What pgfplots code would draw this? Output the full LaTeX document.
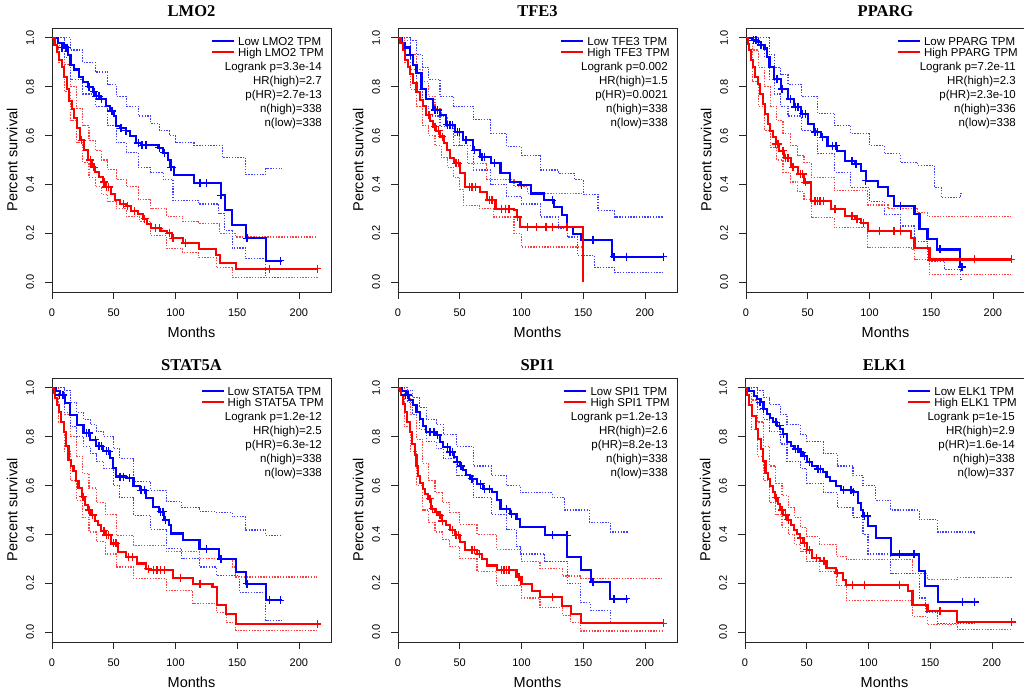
\documentclass[border=0pt]{standalone}
\usepackage{pgfplots}
\pgfplotsset{compat=1.18}
\usepackage{fontspec}
\setmainfont{Liberation Sans}
\newfontfamily\titlefont{Liberation Serif}
\newcommand{\tickf}{\fontsize{11bp}{13bp}\selectfont}
\newcommand{\legf}{\fontsize{11.5bp}{13bp}\selectfont}
\newcommand{\labf}{\fontsize{14.5bp}{17bp}\selectfont}
\newcommand{\titf}{\titlefont\bfseries\fontsize{16.5bp}{19bp}\selectfont}
\definecolor{kmblue}{RGB}{0,0,255}
\definecolor{kmred}{RGB}{255,0,0}
\pgfplotsset{
 km/.style={
  scale only axis, width=279bp, height=264bp,
  xmin=0, xmax=226, ymin=-0.04, ymax=1.04,
  xtick={0,50,100,150,200}, ytick={0,0.2,0.4,0.6,0.8,1},
  tick pos=left, tick align=outside, major tick length=7bp,
  axis line style={black!85, line width=0.8bp},
  tick style={black!85, line width=0.8bp},
  ticklabel style={font=\tickf},
  /pgf/number format/assume math mode=true,
  yticklabel style={xshift=-15bp, rotate=90, anchor=center, /pgf/number format/fixed, /pgf/number format/fixed zerofill, /pgf/number format/precision=1},
  xticklabel style={yshift=-6bp, /pgf/number format/fixed},
  xlabel={Months}, ylabel={Percent survival},
  label style={font=\labf},
  xlabel style={at={(axis description cs:0.5,-0.153)}, anchor=center},
  ylabel style={at={(axis description cs:-0.143,0.5)}, anchor=center},
  title style={font=\titf, at={(axis description cs:0.5,1)}, anchor=center},
  clip=false,
 },
 ci/.style={const plot, no marks, line width=1.1bp, dash pattern=on 1.4bp off 1.4bp},
 cib/.style={ci, kmblue!75},
 cir/.style={ci, kmred!75},
 mb/.style={const plot, no marks, kmblue, line width=2.1bp},
 mr/.style={const plot, no marks, kmred, line width=2.1bp},
 cb/.style={only marks, mark=+, mark size=4bp, kmblue, mark options={line width=1.4bp}},
 cr/.style={only marks, mark=+, mark size=4bp, kmred, mark options={line width=1.4bp}},
}
\tikzset{leg/.style={inner sep=0pt, font=\legf}}
\newcommand{\kmlegend}[7]{%
 \node[leg, anchor=base east] (#1h) at ([xshift=-7bp,yshift=-28.3bp]#1.north east) {High #2 TPM};
 \node[leg, anchor=base west] (#1l) at ([yshift=11bp]#1h.base west) {Low #2 TPM};
 \draw[kmblue, line width=2bp] ([xshift=-4bp,yshift=3.8bp]#1l.base west) -- ++(-22bp,0);
 \draw[kmred, line width=2bp] ([xshift=-4bp,yshift=3.8bp]#1h.base west) -- ++(-22bp,0);
 \node[leg, anchor=base east] at ([xshift=-9bp,yshift=-42.6bp]#1.north east) {Logrank p=#3};
 \node[leg, anchor=base east] at ([xshift=-9bp,yshift=-56.6bp]#1.north east) {HR(high)=#4};
 \node[leg, anchor=base east] at ([xshift=-9bp,yshift=-70.6bp]#1.north east) {p(HR)=#5};
 \node[leg, anchor=base east] at ([xshift=-9bp,yshift=-84.6bp]#1.north east) {n(high)=#6};
 \node[leg, anchor=base east] at ([xshift=-9bp,yshift=-98.1bp]#1.north east) {n(low)=#7};
}
\begin{document}
\begin{tikzpicture}
\useasboundingbox (0,0) rectangle (1024bp,690bp);
% ---------------- LMO2
\begin{axis}[km, name=pa, at={(52bp,398bp)}, anchor=south west, title={LMO2}, title style={yshift=10.5bp}]
\addplot[cir] coordinates {(0,1)(5,0.97)(10,0.89)(15,0.80)(20,0.71)(25,0.64)(30,0.58)(35,0.54)(40,0.50)(45,0.46)(52,0.42)(60,0.39)(70,0.34)(80,0.30)(93,0.27)(106,0.25)(119,0.24)(136,0.20)(149,0.185)(215,0.185)};
\addplot[cir] coordinates {(0,1)(5,0.90)(10,0.78)(15,0.66)(20,0.57)(25,0.49)(30,0.43)(35,0.39)(40,0.36)(45,0.33)(52,0.30)(60,0.27)(71,0.25)(80,0.19)(93,0.137)(106,0.12)(119,0.10)(133,0.06)(146,0.02)(215,0.015)};
\addplot[cib] coordinates {(0,1)(10,1)(15,0.95)(25,0.90)(35,0.86)(45,0.81)(52,0.76)(60,0.72)(70,0.68)(80,0.65)(87,0.62)(95,0.60)(100,0.57)(115,0.56)(138,0.51)(157,0.44)(173,0.465)(186,0.465)};
\addplot[cib] coordinates {(0,1)(10,0.92)(15,0.83)(25,0.77)(35,0.72)(45,0.64)(52,0.57)(60,0.53)(70,0.47)(80,0.45)(90,0.42)(98,0.335)(119,0.32)(135,0.28)(140,0.21)(146,0.14)(157,0.096)(173,0.02)(186,0.02)};
\addplot[mb] coordinates {(0,1)(5,0.98)(10,0.96)(13,0.93)(15,0.89)(18,0.87)(22,0.84)(25,0.82)(29,0.80)(33,0.78)(36,0.76)(40,0.75)(44,0.72)(47,0.70)(50,0.68)(52,0.64)(55,0.63)(60,0.62)(63,0.60)(68,0.57)(72,0.56)(86,0.55)(90,0.53)(94,0.50)(96,0.47)(99,0.44)(115,0.405)(137,0.355)(140,0.295)(146,0.235)(157,0.18)(173,0.088)(186,0.088)};
\addplot[mr] coordinates {(0,1)(2,0.97)(4,0.94)(6,0.91)(8,0.88)(10,0.84)(12,0.79)(14,0.74)(16,0.71)(18,0.67)(20,0.63)(23,0.58)(26,0.54)(29,0.50)(32,0.47)(35,0.45)(38,0.43)(41,0.41)(44,0.39)(48,0.36)(51,0.335)(55,0.32)(60,0.31)(64,0.29)(70,0.28)(74,0.26)(77,0.24)(80,0.22)(88,0.21)(93,0.20)(97,0.18)(106,0.16)(119,0.135)(133,0.11)(136,0.08)(149,0.055)(215,0.055)};
\addplot[cb] coordinates {(8,0.96)(11,0.96)(12,0.96)(30,0.80)(34,0.78)(36,0.76)(38,0.76)(40,0.75)(48,0.70)(49,0.70)(56,0.63)(60,0.62)(70,0.57)(73,0.56)(76,0.56)(87,0.55)(91,0.53)(96,0.47)(97,0.47)(120,0.405)(125,0.405)(137,0.355)(158,0.18)(185,0.088)};
\addplot[cr] coordinates {(24,0.58)(31,0.50)(34,0.47)(42,0.41)(44,0.39)(46,0.39)(58,0.32)(61,0.31)(67,0.29)(75,0.26)(84,0.22)(87,0.22)(95,0.20)(98,0.18)(108,0.16)(176,0.055)(215,0.055)};
\end{axis}
\kmlegend{pa}{LMO2}{3.3e-14}{2.7}{2.7e-13}{338}{338}
% ---------------- TFE3
\begin{axis}[km, name=pb, at={(398bp,398bp)}, anchor=south west, title={TFE3}, title style={yshift=10.5bp}]
\addplot[cir] coordinates {(0,1)(5,0.99)(10,0.93)(15,0.87)(20,0.82)(25,0.76)(30,0.71)(35,0.68)(40,0.64)(45,0.60)(50,0.56)(56,0.486)(72,0.42)(94,0.39)(105,0.363)(149.7,0.363)};
\addplot[cir] coordinates {(0,1)(5,0.90)(10,0.79)(15,0.72)(20,0.64)(25,0.60)(30,0.56)(35,0.51)(40,0.47)(45,0.43)(50,0.38)(53,0.315)(66,0.30)(77.6,0.267)(94,0.20)(100,0.144)(149.7,0.144)};
\addplot[cib] coordinates {(0,1)(10,0.99)(15,0.93)(20,0.88)(25,0.83)(34,0.76)(45,0.72)(61,0.664)(75,0.61)(88,0.555)(100,0.52)(115.6,0.459)(130,0.445)(143,0.42)(150,0.36)(162,0.295)(175.5,0.267)(215,0.267)};
\addplot[cib] coordinates {(0,1)(10,0.87)(15,0.79)(20,0.72)(25,0.68)(34,0.637)(45,0.56)(61,0.459)(75,0.40)(88,0.35)(100,0.32)(115.6,0.267)(130,0.22)(137,0.185)(145.6,0.11)(159,0.062)(175.5,0.041)(215,0.041)};
\addplot[mb] coordinates {(0,1)(3,0.98)(6,0.96)(9.5,0.93)(12,0.89)(15,0.856)(19,0.79)(23,0.75)(28.6,0.705)(34,0.685)(39,0.644)(46,0.616)(53,0.58)(61,0.54)(66.7,0.514)(75,0.486)(83,0.445)(91,0.41)(99,0.397)(107.5,0.363)(118,0.335)(126.5,0.308)(133,0.274)(137,0.226)(141.5,0.199)(148,0.171)(173,0.105)(215,0.105)};
\addplot[mr] coordinates {(0,1)(2,0.98)(4,0.95)(6,0.91)(8,0.88)(10,0.85)(12,0.815)(15,0.78)(17.7,0.747)(20,0.72)(23,0.685)(26,0.66)(28.6,0.637)(31,0.62)(34,0.596)(37,0.57)(39.5,0.54)(42,0.51)(45,0.486)(50,0.445)(54.4,0.39)(66.7,0.37)(72,0.336)(79,0.30)(94,0.295)(96.6,0.267)(99,0.226)(149.7,0)};
\addplot[cb] coordinates {(10,0.93)(30,0.705)(32,0.705)(40,0.644)(42,0.644)(44,0.644)(48,0.616)(50,0.616)(55,0.58)(62,0.54)(68,0.514)(70,0.514)(78,0.486)(100,0.397)(125,0.335)(158,0.171)(175,0.105)(185,0.105)(215,0.105)};
\addplot[cr] coordinates {(25,0.685)(30,0.637)(33,0.62)(36,0.596)(47,0.486)(49,0.486)(58,0.39)(60,0.39)(63,0.39)(74,0.336)(76,0.336)(84,0.30)(87,0.30)(90,0.30)(97,0.267)(105,0.226)(112,0.226)(120,0.226)(125,0.226)(137,0.226)};
\end{axis}
\kmlegend{pb}{TFE3}{0.002}{1.5}{0.0021}{338}{338}
% ---------------- PPARG
\begin{axis}[km, name=pc, at={(746bp,398bp)}, anchor=south west, title={PPARG}, title style={yshift=10.5bp}]
\addplot[cir] coordinates {(0,1)(5,0.95)(10,0.88)(15,0.80)(20,0.72)(25,0.66)(30,0.61)(36,0.56)(42,0.52)(47,0.49)(52.7,0.43)(71.6,0.374)(98.6,0.316)(115,0.30)(139,0.285)(147,0.27)(215,0.27)};
\addplot[cir] coordinates {(0,1)(5,0.82)(10,0.72)(15,0.62)(20,0.55)(25,0.50)(30,0.45)(36,0.41)(42,0.37)(47,0.34)(52.7,0.264)(71.6,0.223)(98.6,0.141)(134,0.134)(136.5,0.093)(148.6,0.03)(215,0.03)};
\addplot[cib] coordinates {(0,1)(15,1)(19,0.93)(23,0.88)(28,0.85)(34,0.81)(44.6,0.76)(58,0.69)(72,0.64)(85,0.607)(100,0.56)(112,0.525)(125,0.49)(139,0.478)(152.7,0.388)(158,0.347)(174,0.363)(176,0.363)};
\addplot[cib] coordinates {(0,1)(10,0.97)(15,0.92)(19,0.83)(23,0.77)(28,0.72)(34,0.68)(44.6,0.62)(58,0.525)(72,0.45)(85,0.388)(100,0.33)(112,0.278)(125,0.23)(136.5,0.168)(147,0.086)(161,0.052)(174,0.011)(176,0.011)};
\addplot[mb] coordinates {(0,1)(5,0.99)(9.5,0.984)(12,0.97)(15,0.956)(17,0.92)(19,0.88)(23,0.83)(28,0.79)(34,0.75)(39,0.716)(44.6,0.69)(50,0.648)(55.4,0.614)(61,0.593)(66,0.559)(74,0.538)(80,0.497)(88,0.484)(93,0.456)(97,0.415)(107,0.388)(115,0.353)(120,0.312)(136.5,0.278)(140.5,0.216)(147,0.175)(155,0.134)(173,0.062)(176,0.062)};
\addplot[mr] coordinates {(0,1)(1.5,0.975)(2.7,0.95)(4,0.91)(5.4,0.88)(7.5,0.84)(9.5,0.81)(11.5,0.77)(13.5,0.73)(15.5,0.69)(17.6,0.648)(19.5,0.62)(21.6,0.593)(24,0.565)(27,0.538)(31,0.51)(36.5,0.47)(42,0.442)(47,0.408)(52.7,0.333)(69,0.30)(80,0.271)(88,0.257)(93,0.244)(98.6,0.21)(134,0.182)(136.5,0.141)(148.6,0.093)(215,0.093)};
\addplot[cb] coordinates {(6,0.99)(8,0.99)(10,0.984)(12,0.97)(25,0.83)(29,0.79)(36,0.75)(40,0.716)(42,0.716)(46,0.69)(48,0.69)(56,0.614)(58,0.614)(62,0.593)(70,0.559)(73,0.559)(86,0.497)(89,0.484)(97,0.415)(125,0.312)(157,0.134)(175,0.062)};
\addplot[cr] coordinates {(24,0.565)(26,0.565)(30,0.538)(32,0.51)(34,0.51)(38,0.47)(44,0.442)(46,0.442)(48,0.408)(56,0.333)(58,0.333)(60,0.333)(63,0.333)(72,0.30)(86,0.271)(90,0.257)(95,0.244)(108,0.21)(120,0.21)(125,0.21)(185,0.093)(215,0.093)};
\end{axis}
\kmlegend{pc}{PPARG}{7.2e-11}{2.3}{2.3e-10}{336}{338}
% ---------------- STAT5A
\begin{axis}[km, name=pd, at={(52bp,48bp)}, anchor=south west, title={STAT5A}, title style={yshift=7bp}]
\addplot[cir] coordinates {(0,1)(5,0.96)(10,0.89)(15,0.80)(20,0.72)(25,0.65)(30,0.59)(36,0.53)(43,0.48)(52,0.397)(66,0.356)(92.6,0.329)(119.5,0.30)(146,0.267)(149,0.226)(215,0.226)};
\addplot[cir] coordinates {(0,1)(5,0.86)(10,0.74)(15,0.62)(20,0.54)(25,0.47)(30,0.41)(36,0.37)(43,0.32)(52,0.267)(66,0.22)(92.6,0.171)(114,0.116)(133,0.082)(141,0.041)(149,0.007)(215,0.007)};
\addplot[cib] coordinates {(0,1)(10,0.99)(15,0.94)(20,0.90)(25.5,0.87)(31,0.85)(36,0.82)(42,0.80)(49.7,0.75)(55,0.71)(66,0.616)(80,0.58)(92.6,0.534)(105,0.51)(119.5,0.493)(133,0.49)(146,0.473)(157,0.418)(173,0.397)(186,0.397)};
\addplot[cib] coordinates {(0,1)(10,0.90)(15,0.84)(20,0.80)(25.5,0.76)(31,0.73)(36,0.70)(42,0.67)(49.7,0.60)(55,0.55)(66,0.479)(80,0.42)(92.6,0.342)(105,0.30)(119.5,0.267)(133,0.233)(151.7,0.164)(173,0.048)(186,0.048)};
\addplot[mb] coordinates {(0,1)(3,0.985)(6.7,0.97)(10.7,0.938)(14.8,0.89)(20,0.849)(25.5,0.815)(31,0.788)(36,0.76)(41.6,0.74)(47,0.712)(49.7,0.67)(52,0.637)(60,0.63)(66,0.60)(71,0.58)(76.5,0.548)(82,0.514)(87,0.493)(91,0.459)(95,0.438)(96.6,0.404)(106,0.377)(119.5,0.342)(135.6,0.30)(149,0.247)(157,0.199)(173,0.13)(186,0.13)};
\addplot[mr] coordinates {(0,1)(1.5,0.98)(2.7,0.96)(4,0.93)(5.4,0.90)(7.5,0.86)(9.4,0.82)(11.5,0.76)(13.4,0.705)(15.5,0.68)(17.4,0.658)(19.5,0.62)(21.5,0.589)(24,0.555)(26.8,0.52)(29.5,0.50)(32,0.479)(35,0.455)(37.6,0.438)(40,0.415)(43,0.397)(48,0.363)(53.7,0.329)(60,0.308)(68.5,0.281)(76.5,0.26)(80,0.253)(98,0.22)(114,0.199)(130,0.185)(134,0.11)(141,0.075)(149,0.034)(215,0.034)};
\addplot[cb] coordinates {(6,0.97)(9,0.97)(28,0.815)(30,0.815)(35,0.788)(38,0.76)(40,0.76)(44,0.74)(46,0.74)(55,0.637)(58,0.637)(63,0.63)(72,0.58)(75,0.58)(88,0.493)(90,0.493)(92,0.459)(125,0.342)(137,0.30)(158,0.199)(176,0.13)(185,0.13)};
\addplot[cr] coordinates {(25,0.555)(30,0.50)(33,0.479)(42,0.415)(44,0.397)(46,0.397)(50,0.363)(52,0.363)(62,0.308)(65,0.308)(78,0.26)(82,0.253)(85,0.253)(88,0.253)(91,0.253)(104,0.22)(120,0.199)(215,0.034)};
\end{axis}
\kmlegend{pd}{STAT5A}{1.2e-12}{2.5}{6.3e-12}{338}{338}
% ---------------- SPI1
\begin{axis}[km, name=pe, at={(398bp,48bp)}, anchor=south west, title={SPI1}, title style={yshift=7bp}]
\addplot[cir] coordinates {(0,1)(5,0.96)(10,0.89)(15,0.79)(20,0.69)(25,0.62)(30,0.57)(36,0.53)(42,0.49)(50,0.44)(64,0.40)(80,0.34)(100,0.29)(115,0.26)(133,0.23)(148,0.22)(215,0.22)};
\addplot[cir] coordinates {(0,1)(5,0.84)(10,0.74)(15,0.60)(20,0.50)(25,0.45)(30,0.41)(36,0.38)(42,0.35)(50,0.30)(64,0.25)(80,0.19)(100,0.14)(115,0.10)(133,0.07)(140,0.04)(148,0.005)(215,0.005)};
\addplot[cib] coordinates {(0,1)(8,0.99)(12,0.96)(17.6,0.92)(23,0.87)(31,0.85)(36.6,0.81)(47.5,0.76)(61,0.68)(76,0.64)(88,0.60)(99,0.57)(119,0.57)(125,0.55)(135,0.50)(148,0.50)(155,0.45)(172,0.41)(186,0.41)};
\addplot[cib] coordinates {(0,1)(8,0.94)(12,0.89)(17.6,0.83)(23,0.78)(31,0.75)(36.6,0.71)(47.5,0.64)(61,0.55)(76,0.48)(88,0.42)(96,0.35)(99,0.32)(119,0.29)(137,0.20)(148,0.12)(156,0.09)(172,0.04)(186,0.04)};
\addplot[mb] coordinates {(0,1)(3,0.985)(6.8,0.97)(9,0.95)(12,0.93)(15,0.90)(17.6,0.874)(20,0.845)(23,0.82)(31,0.806)(34,0.78)(36.6,0.758)(42,0.738)(45,0.715)(47.5,0.697)(50,0.68)(53,0.663)(55,0.645)(58,0.628)(64,0.608)(69,0.587)(76,0.574)(80,0.54)(83,0.505)(91,0.485)(96,0.464)(99,0.43)(119.4,0.396)(137,0.307)(148,0.255)(156,0.205)(172,0.137)(186,0.137)};
\addplot[mr] coordinates {(0,1)(1.5,0.985)(2.7,0.97)(4,0.935)(5.4,0.90)(7.5,0.86)(9.5,0.82)(11.5,0.77)(13.6,0.724)(15,0.68)(16.3,0.64)(18,0.61)(20,0.587)(22,0.565)(24.4,0.546)(27,0.505)(30,0.49)(32.6,0.478)(36,0.455)(39,0.437)(42,0.42)(46,0.396)(50,0.369)(54,0.335)(64,0.32)(68,0.30)(72,0.273)(80,0.253)(96,0.225)(100,0.198)(108.5,0.17)(115,0.143)(133,0.109)(140,0.075)(148,0.036)(215,0.036)};
\addplot[cb] coordinates {(6,0.97)(8,0.97)(26,0.82)(29,0.82)(32,0.806)(40,0.758)(42,0.738)(44,0.738)(48,0.697)(51,0.68)(60,0.628)(67,0.608)(70,0.587)(74,0.587)(88,0.505)(92,0.485)(125,0.396)(137,0.396)(158,0.205)(175,0.137)(185,0.137)};
\addplot[cr] coordinates {(26,0.546)(28,0.505)(31,0.49)(34,0.478)(36,0.455)(44,0.42)(47,0.396)(49,0.396)(60,0.335)(62,0.335)(66,0.32)(84,0.253)(86,0.253)(88,0.253)(90,0.253)(98,0.225)(125,0.143)(215,0.036)};
\end{axis}
\kmlegend{pe}{SPI1}{1.2e-13}{2.6}{8.2e-13}{338}{338}
% ---------------- ELK1
\begin{axis}[km, name=pf, at={(745bp,48bp)}, anchor=south west, title={ELK1}, title style={yshift=7bp}]
\addplot[cir] coordinates {(0,1)(5,0.95)(10,0.86)(15,0.76)(20,0.68)(25,0.61)(30,0.56)(35,0.51)(40,0.47)(45,0.43)(50,0.39)(60,0.36)(74,0.31)(82,0.297)(136,0.24)(148,0.215)(172,0.224)(216,0.224)};
\addplot[cir] coordinates {(0,1)(5,0.83)(10,0.72)(15,0.62)(20,0.53)(25,0.48)(30,0.43)(35,0.40)(40,0.36)(45,0.33)(50,0.29)(60,0.25)(74,0.19)(82,0.13)(135.7,0.064)(147.8,0.03)(172,0.01)(216,0.01)};
\addplot[cib] coordinates {(0,1)(10,0.99)(15,0.96)(20,0.93)(28.6,0.89)(34,0.85)(44.7,0.81)(50,0.78)(63.5,0.73)(75,0.68)(87.5,0.64)(95.6,0.60)(106,0.54)(118,0.50)(141,0.46)(156,0.41)(186,0.40)};
\addplot[cib] coordinates {(0,1)(10,0.91)(15,0.87)(20,0.82)(28.6,0.77)(34,0.70)(44.7,0.67)(50,0.61)(63.5,0.57)(75,0.51)(87.5,0.47)(95.6,0.40)(99.6,0.32)(118,0.24)(141,0.14)(146,0.08)(156,0.035)(186,0.035)};
\addplot[mb] coordinates {(0,1)(3,0.985)(7,0.968)(10,0.955)(12.6,0.94)(15,0.915)(18,0.893)(20,0.875)(23,0.859)(26,0.845)(28.6,0.83)(31,0.81)(34,0.777)(37,0.76)(39.4,0.75)(44.7,0.736)(47,0.72)(50,0.695)(54,0.68)(58,0.667)(63.5,0.654)(66,0.635)(68.8,0.62)(74,0.60)(78,0.58)(87.5,0.573)(91.6,0.53)(94,0.50)(95.6,0.475)(99.6,0.434)(106,0.386)(118,0.318)(141,0.25)(146,0.188)(156,0.123)(186,0.123)};
\addplot[mr] coordinates {(0,1)(1.5,0.97)(3.2,0.93)(5.9,0.886)(8.6,0.83)(10.5,0.79)(12.6,0.75)(14.5,0.70)(16.6,0.653)(18.5,0.625)(20.6,0.60)(22.5,0.575)(24.6,0.55)(26.5,0.525)(28.6,0.50)(31,0.48)(34,0.46)(37,0.44)(39.4,0.42)(42,0.40)(44.7,0.386)(47,0.365)(50,0.338)(54,0.304)(60.8,0.29)(66,0.263)(74,0.242)(79.5,0.215)(82,0.195)(131.7,0.167)(135.7,0.112)(147.8,0.085)(171.9,0.042)(216,0.042)};
\addplot[cb] coordinates {(12,0.94)(15,0.915)(25,0.859)(28,0.845)(31,0.81)(41,0.75)(43,0.75)(45,0.736)(46,0.736)(48,0.72)(52,0.695)(59,0.667)(61,0.667)(80,0.58)(86,0.58)(88,0.573)(97,0.475)(99,0.475)(125,0.318)(137,0.318)(176,0.123)(186,0.123)};
\addplot[cr] coordinates {(25,0.55)(30,0.50)(33,0.48)(35,0.46)(45,0.386)(48,0.365)(50,0.338)(52,0.338)(58,0.304)(64,0.29)(75,0.242)(87,0.195)(97,0.195)(125,0.195)(158,0.085)(216,0.042)};
\end{axis}
\kmlegend{pf}{ELK1}{1e-15}{2.9}{1.6e-14}{338}{337}
\end{tikzpicture}
\end{document}
